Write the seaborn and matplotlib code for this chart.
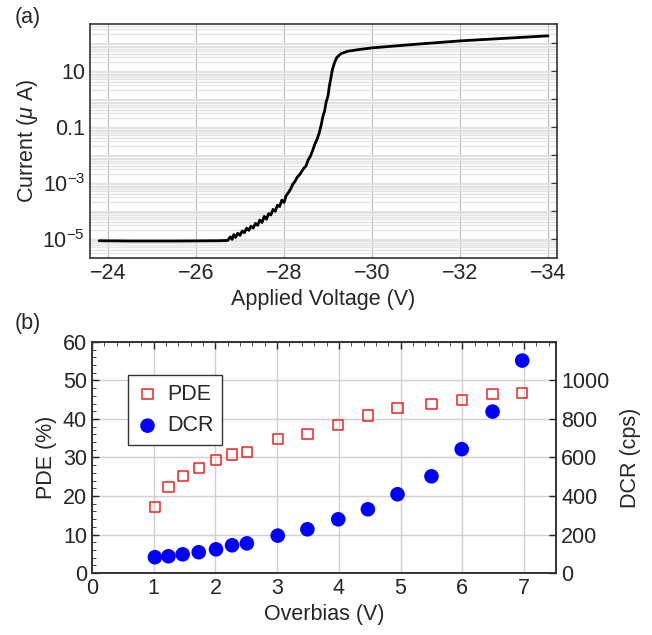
import numpy as np
import pandas as pd
import matplotlib
matplotlib.use('Agg')
import matplotlib.pyplot as plt
import seaborn as sns
from matplotlib.ticker import FixedLocator, FixedFormatter, MultipleLocator, LogLocator, NullFormatter

# ============================================
# Data
# ============================================
# (a) I-V curve: applied voltage (V) and log10 of current (uA)
IV_VOLTAGE = [-23.8, -24.5, -25.5, -26.5, -26.72, -26.78, -26.82, -26.86, -26.9, -26.95,
              -27.0, -27.05, -27.1, -27.15, -27.2, -27.25, -27.3, -27.35, -27.4, -27.45,
              -27.5, -27.55, -27.6, -27.65, -27.7, -27.75, -27.8, -27.85, -27.9, -27.95,
              -28.0, -28.05, -28.1, -28.15, -28.2, -28.25, -28.3, -28.35, -28.4, -28.45,
              -28.5, -28.55, -28.6, -28.65, -28.7, -28.75, -28.8, -28.85, -28.88, -28.92,
              -28.96, -29.0, -29.03, -29.06, -29.1, -29.15, -29.2, -29.3, -29.45, -29.7,
              -30.0, -31.0, -32.0, -33.0, -34.0]
IV_LOG_CURRENT = [-5.07, -5.08, -5.08, -5.07, -5.06, -4.93, -5.02, -4.85, -4.95, -4.80,
                  -4.88, -4.72, -4.78, -4.62, -4.70, -4.55, -4.62, -4.45, -4.52, -4.33,
                  -4.42, -4.20, -4.30, -4.10, -4.15, -3.95, -4.02, -3.80, -3.85, -3.62,
                  -3.70, -3.45, -3.35, -3.22, -3.05, -2.95, -2.80, -2.72, -2.60, -2.48,
                  -2.40, -2.18, -2.05, -1.85, -1.62, -1.45, -1.22, -0.90, -0.65, -0.45,
                  -0.10, 0.10, 0.45, 0.70, 1.05, 1.30, 1.48, 1.62, 1.70, 1.76,
                  1.82, 1.95, 2.07, 2.16, 2.25]

# (b) PDE / DCR vs overbias
OVERBIAS = [1.02, 1.24, 1.47, 1.73, 2.01, 2.27, 2.51, 3.01, 3.49, 3.99,
            4.47, 4.95, 5.50, 5.99, 6.49, 6.97]
PDE = [17.1, 22.4, 25.1, 27.2, 29.4, 30.8, 31.5, 34.7, 36.0, 38.4,
       40.9, 42.8, 43.8, 44.9, 46.5, 46.8]
DCR = [82, 87, 97, 108, 123, 144, 154, 194, 227, 279,
       331, 409, 502, 643, 838, 1103]

sns.set_style('white')
plt.rcParams['font.family'] = ['Liberation Sans', 'DejaVu Sans']
plt.rcParams['mathtext.fontset'] = 'custom'
plt.rcParams['mathtext.rm'] = 'Liberation Sans'
plt.rcParams['mathtext.it'] = 'Liberation Sans:italic'
FS = 15.5

fig = plt.figure(figsize=(6.52, 6.35), dpi=100)
ax1 = fig.add_axes([0.138, 0.594, 0.716, 0.3685])
ax2 = fig.add_axes([0.141, 0.0976, 0.712, 0.364])

# ---------------- (a) ----------------
iv = pd.DataFrame({'V': IV_VOLTAGE, 'I': 10 ** np.array(IV_LOG_CURRENT)})
ax1.set_yscale('log')
sns.lineplot(data=iv, x='V', y='I', ax=ax1, color='black', lw=2, sort=False, zorder=3)
ax1.set_xlim(-23.59, -34.2)
ax1.set_ylim(10 ** -5.68, 10 ** 2.68)
ax1.yaxis.set_major_locator(FixedLocator([10.0 ** k for k in range(-5, 3)]))
ax1.yaxis.set_major_formatter(FixedFormatter(['$10^{-5}$', '', '$10^{-3}$', '', '0.1', '', '10', '']))
ax1.yaxis.set_minor_locator(LogLocator(base=10, subs=np.arange(2, 10), numticks=20))
ax1.yaxis.set_minor_formatter(NullFormatter())
ax1.xaxis.set_major_locator(FixedLocator([-24, -26, -28, -30, -32, -34]))
ax1.xaxis.set_major_formatter(FixedFormatter(['\u221224', '\u221226', '\u221228', '\u221230', '\u221232', '\u221234']))
ax1.grid(True, which='both', axis='y', color='#e2e2e2', lw=0.9)
ax1.grid(True, which='major', axis='x', color='#b8b8b8', lw=0.8)
ax1.tick_params(axis='both', which='major', direction='in', length=4, labelsize=FS,
                right=True, top=False, width=1)
ax1.tick_params(axis='y', which='minor', length=0)
ax1.set_xlabel('Applied Voltage (V)', fontsize=FS)
ax1.set_ylabel(r'Current ($\mu$ A)', fontsize=FS, labelpad=2)
for s in ax1.spines.values():
    s.set_color('#333333')
    s.set_linewidth(1.2)
fig.text(0.022, 0.972, '(a)', fontsize=FS, va='center')

# ---------------- (b) ----------------
df = pd.DataFrame({'Overbias': OVERBIAS, 'PDE': PDE, 'DCR': DCR})
ax3 = ax2.twinx()
sns.scatterplot(data=df, x='Overbias', y='PDE', ax=ax2, marker='s', s=55,
                facecolor='none', edgecolor='#ee2222', linewidth=1.1, zorder=3, legend=False)
sns.scatterplot(data=df, x='Overbias', y='DCR', ax=ax3, marker='o', s=110,
                color='#0000ff', edgecolor='none', zorder=3, legend=False)
ax2.set_xlim(0, 7.52)
ax2.set_ylim(0, 60)
ax3.set_ylim(0, 1200)
ax2.xaxis.set_major_locator(MultipleLocator(1))
ax2.xaxis.set_minor_locator(MultipleLocator(0.2))
ax2.yaxis.set_major_locator(MultipleLocator(10))
ax2.yaxis.set_minor_locator(MultipleLocator(2))
ax3.yaxis.set_major_locator(FixedLocator([0, 200, 400, 600, 800, 1000, 1200]))
ax3.yaxis.set_major_formatter(FixedFormatter(['0', '200', '400', '600', '800', '1000', '']))
ax2.grid(True, which='major', color='#d0d0d0', lw=1.0)
ax2.tick_params(axis='both', which='major', direction='in', length=5, labelsize=FS, top=True, width=1)
ax2.tick_params(axis='both', which='minor', direction='in', length=3, top=True)
ax3.tick_params(axis='y', which='major', direction='in', length=5, labelsize=FS, width=1)
ax2.set_xlabel('Overbias (V)', fontsize=FS)
ax2.set_ylabel('PDE (%)', fontsize=FS)
ax3.set_ylabel('DCR (cps)', fontsize=FS, labelpad=8)
for a in (ax2, ax3):
    for s in a.spines.values():
        s.set_color('#333333')
        s.set_linewidth(1.2)

h1 = ax2.scatter([], [], marker='s', s=55, facecolor='none', edgecolor='#ee2222', linewidth=1.1)
h2 = ax3.scatter([], [], marker='o', s=110, color='#0000ff', edgecolor='none')
leg = ax3.legend([h1, h2], ['PDE', 'DCR'], loc='upper left', bbox_to_anchor=(0.078, 0.857),
                 fontsize=FS, frameon=True, fancybox=False, handlelength=1.0, handletextpad=0.4,
                 borderpad=0.4, labelspacing=0.5, borderaxespad=0)
leg.get_frame().set_edgecolor('#333333')
leg.get_frame().set_linewidth(1.0)
leg.get_frame().set_alpha(1)
fig.text(0.022, 0.49, '(b)', fontsize=FS, va='center')

fig.savefig('out.png', dpi=100)
